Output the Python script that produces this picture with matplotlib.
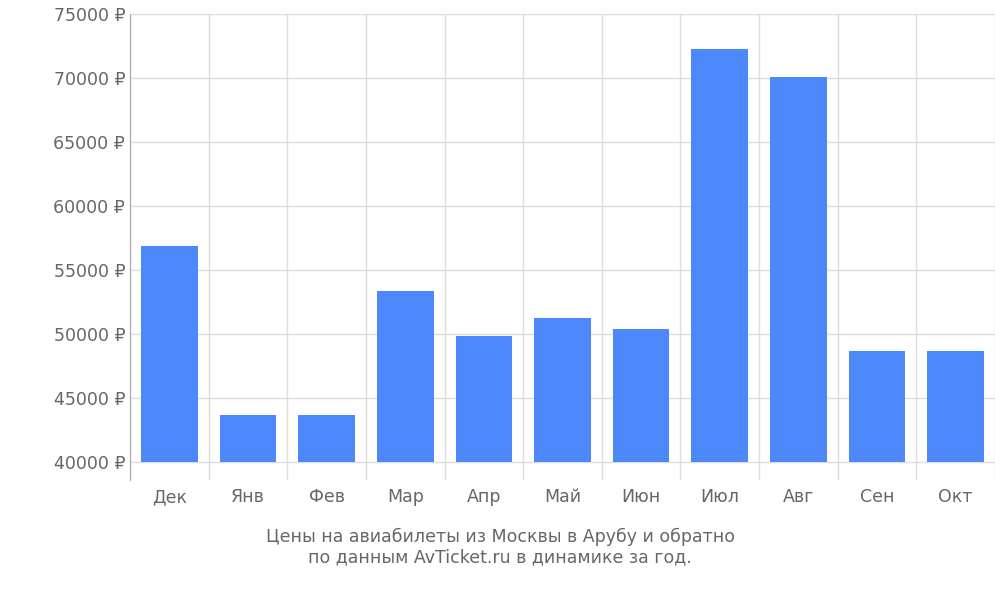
import matplotlib
matplotlib.use("Agg")
import matplotlib.pyplot as plt

months = ["Дек","Янв","Фев","Мар","Апр","Май","Июн","Июл","Авг","Сен","Окт"]
prices = [56900, 43670, 43670, 53360, 49840, 51250, 50390, 72270, 70080, 48670, 48670]
yticks = list(range(40000, 75001, 5000))

fig = plt.figure(figsize=(10, 6), dpi=100)
ax = fig.add_axes([0.130, 0.200, 0.865, 0.777])
base = 40000
ax.set_ylim(base - 18/64*5000, 75000)
ax.set_xlim(-0.5, len(months) - 0.5)
x = list(range(len(months)))
ax.bar(x, [p - base for p in prices], bottom=base, width=0.72, color="#4d88fa", zorder=3)
for t in yticks:
    ax.axhline(t, color="#dddddd", lw=1, zorder=1)
for b in range(len(months) + 1):
    ax.axvline(b - 0.5, color="#dddddd", lw=1, zorder=1)
ax.set_yticks(yticks)
ax.set_yticklabels([f"{t} ₽" for t in yticks])
ax.set_xticks(x)
ax.set_xticklabels(months)
ax.tick_params(axis="both", length=0, labelsize=12.5, colors="#666666")
ax.tick_params(axis="x", pad=6)
for s in ["top", "right", "bottom"]:
    ax.spines[s].set_visible(False)
ax.spines["left"].set_color("#aaaaaa")
fig.text(0.5, 0.088, "Цены на авиабилеты из Москвы в Арубу и обратно\nпо данным AvTicket.ru в динамике за год.",
         ha="center", va="center", fontsize=12.5, color="#666666", linespacing=1.2)
fig.savefig("out.png")
